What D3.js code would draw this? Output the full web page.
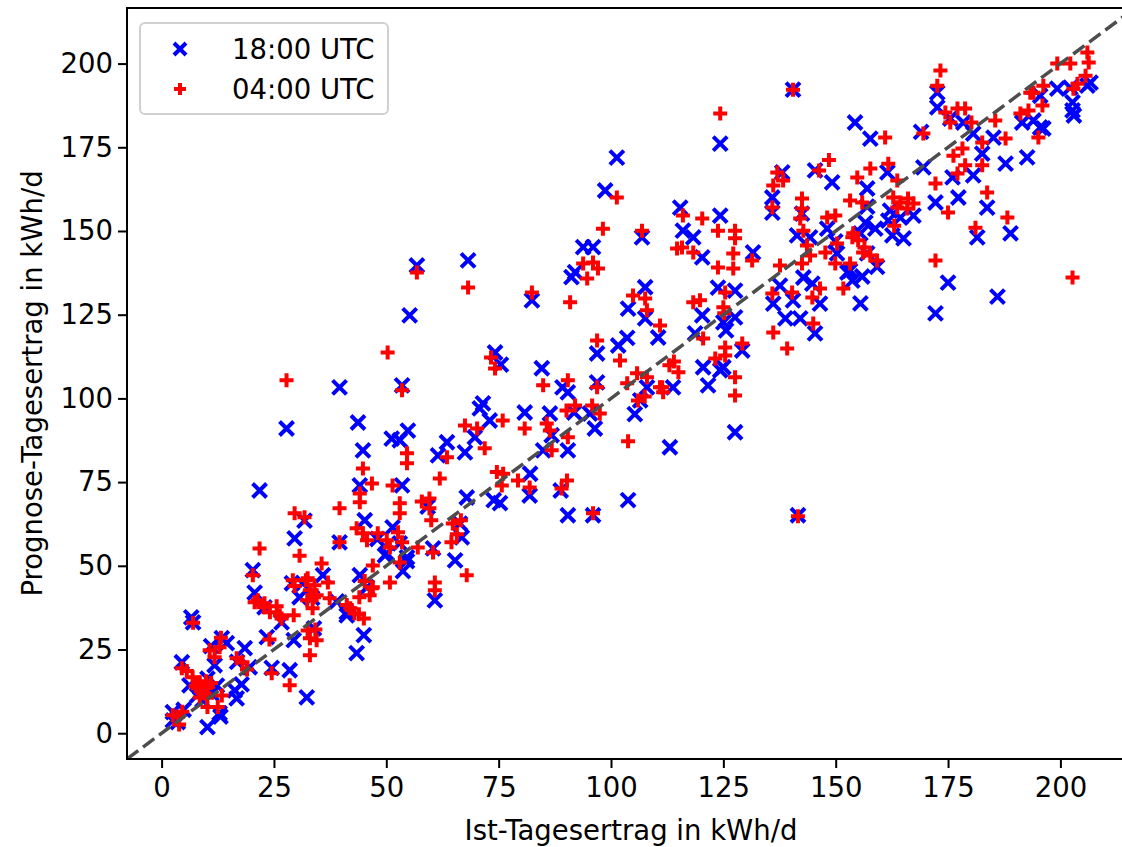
<!DOCTYPE html>
<html>
<head>
<meta charset="utf-8">
<script src="https://cdn.jsdelivr.net/npm/d3@7"></script>
<style>
  body { margin: 0; background: #fff; }
  text { font-family: "DejaVu Sans", sans-serif; }
</style>
</head>
<body>
<svg id="chart" width="1122" height="847"></svg>
<script>
// [Ist, Prognose] in kWh/d
const utc18 = [
  [2.5,6.3],[2.5,3.8],[3.6,3.3],[4.9,7],[4.5,21.2],[6.2,14.3],[7,33.1],[7.9,11.3],[9.1,9.9],[10.2,16.3],
  [10.2,1.8],[11,26],[11.1,11.9],[11.8,20.3],[12.9,6],[13.1,5],[13.4,28.4],[14.5,26.9],[16.3,12.8],[16.7,10.4],
  [17.8,14.6],[16.8,21.3],[18.5,25.4],[19.6,19.7],[20.3,48.7],[20.7,42],[21.8,72.5],[22.9,37.6],[24.5,19.5],[23.4,28.7],
  [8.6,13.6],[6.6,34.6],[12.3,14.2],
  [26.7,33.1],[27.8,91],[29.4,27.8],[28.5,18.8],[29.6,58.2],[31.8,63.5],[29,44.8],[30.7,40.6],[31.4,44.8],[32.3,10.7],
  [33.9,31.3],[35.9,47.2],[33.5,40.4],[39,39.4],[41.2,36.1],[39.6,103.3],[39.6,57],[43.4,23.9],[43.7,92.8],[44.1,74],
  [44.8,84.5],[45.2,63.6],[45,29.3],[44.1,47.2],[45.7,43.6],[41.2,35.2],[48,58],[49.7,53.1],
  [51.2,88],[53,87.5],[54.8,90.4],[53.5,103.9],[53.5,74],[51.4,61.5],[53,56.7],[54.6,51.4],[53.7,48.4],[50.1,53.7],
  [54.6,52.5],[55.2,124.8],[56.8,139.7],[60.4,55.2],[59.2,67.7],[60.8,39.7],[63.5,86.9],[61.5,83],[67.5,83.9],[67.9,70.4],
  [65.3,51.6],[66.4,62.6],[66.8,58.5],[68.2,141.2],[69.7,88.4],[70.8,97],[71.5,98.5],
  [73,93.4],[74.2,113.7],[75.5,110.1],[73.9,69.6],[75.3,68.7],[80.8,95.8],[82.4,129.3],[84.6,109],[84.9,84.5],
  [86.4,95.5],[86.8,89],[81.9,71],[82,77.5],[88.8,72.5],[90.4,84.5],[90.4,65.1],[89.2,103.3],[90.4,101.8],[91.8,95.8],
  [95.3,95.5],[96.4,91],[96,65.1],[96.9,113.4],[96.9,104.8],[91.2,136.2],[92,137.7],[93.8,145.2],[96,145.2],[98.7,162.1],
  [101.6,115.8],[103.6,118.1],[101.3,171.9],[103.8,126.8],[107.6,133.2],[107.6,123.9],[110.5,118.2],[108,103.3],[106.5,99.4],[105.3,95.3],
  [103.8,69.6],[113.1,85.4],[113.8,103.3],[106.9,148.1],[115.4,157],[116,150.1],[118.3,148.1],[120.3,142.1],[124.3,154.6],[124.3,176.1],
  [123.8,133.1],[127.6,132.2],[120.3,124.8],[118.7,119.4],[125,122.7],[127.6,124.2],[125.6,120.3],[125,109.3],[124.3,108.4],[129.2,114.3],
  [121.6,103.9],[127.6,89.9],[120.5,109.3],
  [131.6,143.6],[135.9,160],[135.9,155.5],[138.1,167.5],[142.5,155.2],[141.4,148.7],[144.3,148.1],[145.4,168.1],[149.2,164.5],[148.1,150.7],
  [150.3,143.3],[154.3,182.4],[153.7,135.2],[137.6,133.7],[136.1,128.3],[140.5,129.3],[142.8,136.1],[144.8,134.3],[146.5,128.3],[138.8,123.9],
  [142.1,123.9],[145.4,119.4],[141.6,65.1],[140.5,192.2],[152.6,137.6],[155.9,136.4],[159.2,139.3],[155.5,128.4],[157.7,177.6],[157,162.7],
  [157,157.3],[156.6,152.5],[158.8,150.7],[155.5,149.3],[157,143.3],[153.2,138.2],[149.9,146.9],
  [161.5,167.5],[162.1,156.1],[164.4,154],[167.3,154.6],[161.7,153.1],[162.6,148.7],[165.1,147.8],[169.5,169],[169,179.6],[172.6,191.3],
  [172.6,186.9],[175.5,183.6],[178.4,182.4],[180.6,179.1],[185.1,177.9],[182.6,173.1],[180.6,166.6],[176,166],[172.2,158.5],[177.3,160],
  [183.7,157],[188.9,149.3],[181.5,148.1],[187.8,170.1],[192.6,172],[175,134.6],[186,130.4],[172.2,125.4],[206,193.4],[206.7,194.3],
  [199.3,192.5],[202.2,192.8],[195.5,190.4],[202.7,188.4],[202.7,186],[203,184.5],[191.5,182.4],[194,183],[195.5,180.9],[196.2,180.6]
];

const utc04 = [
  [2.5,5.4],[3.6,4.9],[3.9,2.6],[4.6,6.4],[4.5,19.4],[7,33],[6.9,16.7],[8.5,15.2],[9.9,15.5],[8.9,12.8],
  [10.3,13.8],[8.5,10.7],[11,15],[10.7,24.8],[11.8,22.7],[12.9,25.7],[13.2,28.5],[13.4,11.3],[12.5,7.8],[10.2,7.8],
  [16.7,22.4],[18,21.2],[19,19],[20.3,47.2],[20.7,39.1],[21.8,55.2],[21.4,39.7],[22.9,38.8],[22.7,37.6],[24.1,36.1],
  [24,28],[24.5,17.9],[7.6,14.1],[9.6,11.9],[10.1,10.6],[8,13.4],[5.6,18.6],
  [25.6,37.9],[26.3,35.2],[26.7,34.3],[27.8,105.4],[29.4,35.2],[28.5,14.3],[29.2,45.7],[29.6,44],[29.6,65.7],[30.7,53],
  [31.8,64.5],[32.1,45.7],[32.5,46.3],[32.5,30.7],[33,28.4],[34.2,31],[34.5,27.8],[33,23.3],[33,42.7],[34,44.2],
  [34.5,41.2],[32.4,39.7],[33.9,40.6],[33.6,37.3],[35.6,50.7],[37,45],[37.4,40.3],[39.6,57],[39.6,67.2],[41.2,38.3],
  [42,37.3],[42.9,35.8],[43.9,35.5],[45,34.3],[44,40.6],[43.4,61.2],[44.8,59.7],[45.7,57.6],[44.1,71.6],[44.1,69],
  [44.8,79.1],[46.8,74.6],[45.2,45.5],[46.8,43.3],[46.3,41.2],[47,43.6],[47,50.1],[48.1,59.7],
  [50.1,57.6],[50.8,55.5],[52.6,60],[53.5,57],[57,55.5],[53,51],[50.8,45],[51.4,74],[50.3,113.7],[53,68.7],
  [53,65.7],[53.5,102.4],[54.6,83.6],[54.6,80.6],[56.8,137.6],[57.9,69.2],[59.6,70.1],[59.6,67.2],[60,63.6],[60.4,54],
  [60.8,45],[60.8,42.7],[61.9,76.1],[63.5,82.4],[64.8,62.6],[65.7,59.4],[66.6,63.6],[64.5,57],[67.9,47.2],[67.5,91.9],
  [68.2,133.1],[70.2,91],[71.9,85.1],
  [73.3,112.2],[74.2,108.9],[75.9,93.4],[74.6,78],[76,77.5],[75.7,74],[79.3,75.5],[81.9,73.4],[80.8,91],[82.4,131.6],
  [84.9,103.9],[85.7,92.5],[86.4,90.4],[86.8,84.5],[89,73.1],[90.2,75.5],[90.4,88.4],[90.4,105.4],[90.1,96.4],[92,97.9],
  [95.8,97.9],[97.5,95.5],[90.9,128.7],[93.8,140.3],[96,140.6],[97.1,138.8],[94.7,135.8],[96,65.7],[96.9,103.3],[96.9,117.3],
  [98.2,150.7],
  [101.3,160],[102,111.3],[103.6,104.5],[103.8,87.2],[104.9,130.7],[107.6,129.8],[108,126.3],[110.9,121.8],[105.8,107.5],[108,106.3],
  [110.9,103.3],[113,109.9],[115,107.8],[114,111],[106,99.4],[107.5,100.6],[111.4,103.3],[111.6,101.8],[106.9,150.1],[114.7,144.8],
  [116,154.6],[120.3,153.7],[123.8,150.1],[127.6,150.1],[127.6,147.8],[115.8,145.1],[118.3,143.6],[127.2,143.3],[123.8,139.1],[127.2,138.8],
  [125.4,131.6],[125,127.2],[125.2,125.4],[119.8,129.3],[118.3,128.7],[120.5,117.9],[123.2,111.9],[125.4,115.2],[125.4,112.8],[129.2,116.4],
  [127.6,106.3],[127.6,100.9],[124.3,185.1],
  [131.4,141.2],[136.1,163.6],[135.9,157],[137,167.5],[138.3,165.1],[142.5,159.7],[142.5,156.7],[142.1,153.7],[142.8,150.1],[143.6,145.7],
  [144.3,142.7],[142.5,140.3],[146.3,168.1],[148.5,171.2],[148.1,154],[149.9,154.6],[147.7,143.6],[150.3,146.3],[149.9,140.3],[154.8,166],
  [153.2,159.1],[153.7,148.1],[153.2,140.3],[151.7,132.8],[135.9,131.3],[140.3,131.6],[137.6,139.7],[146.5,132.8],[144.8,130.1],[145,122.4],
  [136.1,119.7],[139.2,114.9],[141.6,64.8],[140.5,192.2],[156.1,143.6],[159.2,141.2],[157.7,168.7],[161,177.9],[153.9,149.3],[155,147.2],
  [156.4,145.1],[157.7,142.7],[155.9,158.5],
  [161.7,170.1],[163.7,165.1],[162.8,160],[164.4,158.5],[166.1,159.7],[167.3,158.2],[163.7,157],[165.9,156.7],[163,151.6],[169.5,179.1],
  [172.2,164.2],[173.3,197.9],[172.6,193.4],[174.4,185.4],[177.1,186.6],[178.8,186.6],[175.5,182.4],[180.2,182.4],[185.5,183],[187.8,177.6],
  [182.6,176.4],[178.2,174.6],[176.2,172.5],[178.8,169.6],[177.1,167.2],[182.6,169.6],[175,155.5],[183.7,161.5],[188.2,154],[181.1,151],
  [172.2,141.2],[202.7,136.1],[206,203.3],[206.3,200.3],[199.3,200],[202.2,200],[205.6,196.4],[202.9,192.5],[203.8,194],[196.2,193.4],
  [194,191.3],[193.3,191.3],[196,187.5],[191.1,185.1],[192.9,186],[195.1,177.9]
];

const ticks = [0, 25, 50, 75, 100, 125, 150, 175, 200];
const lim = [-7.7, 216.6];

const margin = { left: 127, top: 8, right: 1135, bottom: 759 };
const fontSize = "27.5px";

const svg = d3.select("#chart");

const x = d3.scaleLinear().domain(lim).range([margin.left, margin.right]);
const y = d3.scaleLinear().domain(lim).range([margin.bottom, margin.top]);

// clip zum Achsenbereich
svg.append("clipPath").attr("id", "clip")
    .append("rect")
    .attr("x", margin.left).attr("y", margin.top)
    .attr("width", margin.right - margin.left)
    .attr("height", margin.bottom - margin.top);

const plot = svg.append("g").attr("clip-path", "url(#clip)");

const s = 7;

plot.selectAll("path.x18")
    .data(utc18)
    .enter()
    .append("path")
    .attr("class", "x18")
    .attr("d", d => {
        const cx = x(d[0]), cy = y(d[1]);
        return `M${cx - s},${cy - s}L${cx + s},${cy + s}M${cx - s},${cy + s}L${cx + s},${cy - s}`;
    })
    .attr("stroke", "#0000ff")
    .attr("stroke-width", 4)
    .attr("fill", "none");

plot.selectAll("path.p04")
    .data(utc04)
    .enter()
    .append("path")
    .attr("class", "p04")
    .attr("d", d => {
        const cx = x(d[0]), cy = y(d[1]);
        return `M${cx - s},${cy}L${cx + s},${cy}M${cx},${cy - s}L${cx},${cy + s}`;
    })
    .attr("stroke", "#ff0000")
    .attr("stroke-width", 4)
    .attr("fill", "none");

// 1:1 Linie
plot.append("line")
    .attr("x1", x(lim[0])).attr("y1", y(lim[0]))
    .attr("x2", x(lim[1])).attr("y2", y(lim[1]))
    .attr("stroke", "#4d4d4d")
    .attr("stroke-width", 3.5)
    .attr("stroke-dasharray", "14,6");

// Achsen
const xAxis = svg.append("g")
    .attr("transform", `translate(0,${margin.bottom})`)
    .call(d3.axisBottom(x).tickValues(ticks).tickSize(9).tickPadding(9));

const yAxis = svg.append("g")
    .attr("transform", `translate(${margin.left},0)`)
    .call(d3.axisLeft(y).tickValues(ticks).tickSize(9).tickPadding(5));

[xAxis, yAxis].forEach(a => {
    a.select(".domain").remove();
    a.selectAll(".tick line").attr("stroke", "#000").attr("stroke-width", 2);
    a.selectAll(".tick text")
        .attr("fill", "#000")
        .style("font-size", fontSize)
        .style("font-family", "DejaVu Sans");
});

svg.append("rect")
    .attr("x", margin.left).attr("y", margin.top)
    .attr("width", margin.right - margin.left)
    .attr("height", margin.bottom - margin.top)
    .attr("fill", "none")
    .attr("stroke", "#000")
    .attr("stroke-width", 2);

svg.append("text")
    .attr("x", (margin.left + margin.right) / 2)
    .attr("y", 840)
    .attr("text-anchor", "middle")
    .style("font-size", fontSize)
    .text("Ist-Tagesertrag in kWh/d");

svg.append("text")
    .attr("transform", `translate(32,${(margin.top + margin.bottom) / 2}) rotate(-90)`)
    .attr("text-anchor", "middle")
    .attr("dy", "0.35em")
    .style("font-size", fontSize)
    .text("Prognose-Tagesertrag in kWh/d");

// Legende
const legend = svg.append("g");

legend.append("rect")
    .attr("x", 140).attr("y", 23)
    .attr("width", 248).attr("height", 91)
    .attr("rx", 5)
    .attr("fill", "#fff")
    .attr("fill-opacity", 0.8)
    .attr("stroke", "#d0d0d0")
    .attr("stroke-width", 2);

const ls = 6;
legend.append("path")
    .attr("d", `M${180 - ls},${49 - ls}L${180 + ls},${49 + ls}M${180 - ls},${49 + ls}L${180 + ls},${49 - ls}`)
    .attr("stroke", "#0000ff").attr("stroke-width", 4);
legend.append("path")
    .attr("d", `M${180 - ls},89L${180 + ls},89M180,${89 - ls}L180,${89 + ls}`)
    .attr("stroke", "#ff0000").attr("stroke-width", 4);

legend.append("text").attr("x", 232).attr("y", 49).attr("dy", "0.35em")
    .style("font-size", fontSize).text("18:00 UTC");
legend.append("text").attr("x", 232).attr("y", 89).attr("dy", "0.35em")
    .style("font-size", fontSize).text("04:00 UTC");
</script>
</body>
</html>
